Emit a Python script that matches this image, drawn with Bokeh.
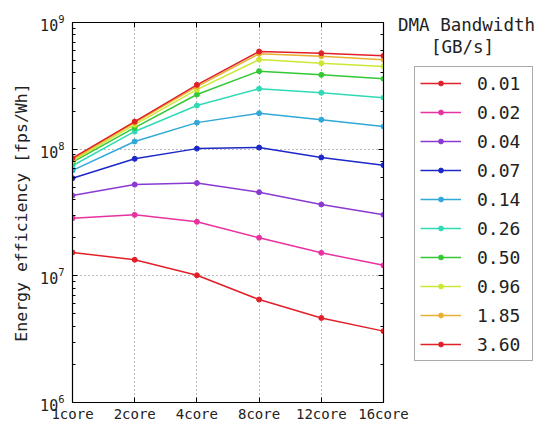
from bokeh.plotting import figure
from bokeh.layouts import row
from bokeh.models import (Range1d, FixedTicker, LogAxis, LinearAxis, LogTicker,
                          Legend, LegendItem, Label, CustomJSTickFormatter)
from bokeh.embed import file_html
from bokeh.resources import INLINE

# ---- data ----
cores = ["1core", "2core", "4core", "8core", "12core", "16core"]
bw_labels = ["0.01", "0.02", "0.04", "0.07", "0.14", "0.26", "0.50", "0.96", "1.85", "3.60"]

eff_001 = [1.53e7, 1.34e7, 1.01e7, 6.5e6, 4.65e6, 3.66e6]
eff_002 = [2.85e7, 3.03e7, 2.67e7, 2.0e7, 1.52e7, 1.21e7]
eff_004 = [4.3e7, 5.25e7, 5.4e7, 4.57e7, 3.66e7, 3.03e7]
eff_007 = [5.9e7, 8.4e7, 1.01e8, 1.03e8, 8.6e7, 7.47e7]
eff_014 = [6.8e7, 1.15e8, 1.62e8, 1.92e8, 1.71e8, 1.51e8]
eff_026 = [7.4e7, 1.38e8, 2.21e8, 3.0e8, 2.79e8, 2.55e8]
eff_050 = [7.9e7, 1.48e8, 2.70e8, 4.13e8, 3.86e8, 3.6e8]
eff_096 = [8.1e7, 1.56e8, 2.95e8, 5.1e8, 4.77e8, 4.5e8]
eff_185 = [8.3e7, 1.62e8, 3.12e8, 5.66e8, 5.42e8, 5.08e8]
eff_360 = [8.5e7, 1.65e8, 3.22e8, 5.9e8, 5.72e8, 5.46e8]

series = [eff_001, eff_002, eff_004, eff_007, eff_014,
          eff_026, eff_050, eff_096, eff_185, eff_360]
colors = ["#e3202a", "#e832a0", "#8a3ad2", "#1c28c8", "#30a8d8",
          "#30dab4", "#34c834", "#cce834", "#e8b030", "#e02028"]

legend_title_1 = "DMA Bandwidth"
legend_title_2 = "[GB/s]"
y_label = "Energy efficiency [fps/Wh]"

FONT = "DejaVu Sans Mono"

TOTAL_W, H = 537, 424
ML, MT = 72, 22
FRAME_RIGHT = 383
MR = 26                      # room for the last x tick label
PW = FRAME_RIGHT + MR        # plot canvas width
QX = 387                     # page x where the (transparent) legend canvas starts
OVER = PW - QX               # overlap of the two canvases
QW = TOTAL_W - QX
LIFT = 14                    # legend canvas raised so the title is not clipped
Q_FRAME_BOTTOM = 400 - LIFT  # page y of the legend canvas' frame bottom

x = list(range(len(cores)))

p = figure(width=PW, height=H, y_axis_type="log",
           x_range=Range1d(0, len(cores) - 1), y_range=Range1d(1e6, 1e9),
           output_backend="svg", toolbar_location=None,
           min_border_left=ML, min_border_right=MR, min_border_top=MT,
           min_border_bottom=0)

p.outline_line_color = "black"
p.outline_line_width = 1.2
p.background_fill_color = "white"

# x axis
p.xaxis.ticker = FixedTicker(ticks=x)
p.xaxis.major_label_overrides = {i: c for i, c in enumerate(cores)}
p.xaxis.major_label_text_font = FONT
p.xaxis.major_label_text_font_size = "14px"
p.xaxis.major_label_text_color = "#222222"
p.xaxis.major_label_standoff = 3
p.xaxis.major_tick_in = 5
p.xaxis.major_tick_out = 0
p.xaxis.axis_line_color = "black"

# y axis
p.yaxis.axis_label = y_label
p.yaxis.axis_label_text_font = FONT
p.yaxis.axis_label_text_font_size = "16.5px"
p.yaxis.axis_label_text_font_style = "normal"
p.yaxis.axis_label_text_color = "#222222"
p.yaxis.axis_label_standoff = 6
p.yaxis.major_label_text_font = FONT
p.yaxis.major_label_text_font_size = "15px"
p.yaxis.major_label_text_color = "#222222"
p.yaxis.major_label_standoff = 8
p.yaxis.major_tick_in = 5
p.yaxis.major_tick_out = 0
p.yaxis.minor_tick_in = 3
p.yaxis.minor_tick_out = 0
p.yaxis.axis_line_color = "black"

# mirrored axes (ticks only, no labels)
blank = CustomJSTickFormatter(code="return ''")
ra = LogAxis(ticker=LogTicker(), formatter=blank,
             major_label_standoff=0, major_tick_in=5, major_tick_out=0,
             minor_tick_in=3, minor_tick_out=0, axis_line_color="black")
p.add_layout(ra, "right")
ta = LinearAxis(ticker=FixedTicker(ticks=x), formatter=blank,
                major_label_standoff=0, major_tick_in=5, major_tick_out=0,
                axis_line_color="black")
p.add_layout(ta, "above")

# grids
for g in (p.xgrid, p.ygrid):
    g.grid_line_color = "#777777"
    g.grid_line_dash = "1 3"
    g.grid_line_width = 1

for vals, c in zip(series, colors):
    p.line(x, vals, line_color=c, line_width=1.5)
    p.scatter(x, vals, size=5, fill_color=c, line_color=c)

# ---- legend panel (transparent canvas, slightly overlapping the plot's right border) ----
q = figure(width=QW, height=H, x_range=Range1d(0, 1), y_range=Range1d(0, 1),
           output_backend="svg", toolbar_location=None,
           x_axis_location=None, y_axis_location=None,
           min_border=0, outline_line_color=None)
q.grid.visible = False
q.background_fill_color = None
q.border_fill_color = None
q.margin = (-LIFT, 0, 0, -OVER)

nan = float("nan")
items = []
for lab, c in zip(bw_labels, colors):
    # legend keys only: a single NaN point, so nothing is drawn in the panel
    kl = q.line(x=[nan], y=[nan], line_color=c, line_width=1.5)
    ks = q.scatter(x=[nan], y=[nan], size=4, fill_color=c, line_color=c)
    items.append(LegendItem(label=lab, renderers=[kl, ks]))

legend = Legend(items=items, location=(414 - QX, Q_FRAME_BOTTOM - 359),
                label_text_font=FONT, label_text_font_size="18px",
                label_text_color="#222222",
                glyph_width=41, glyph_height=12, label_height=22, label_width=50,
                label_standoff=16, spacing=7, padding=5, margin=0,
                border_line_color="#555555", border_line_width=1.5,
                background_fill_color="white", background_fill_alpha=1.0)
q.add_layout(legend, "center")

t1 = Label(x=466 - QX, y=Q_FRAME_BOTTOM - 22, x_units="screen", y_units="screen",
           text=legend_title_1, text_align="center", text_baseline="middle",
           text_font=FONT, text_font_size="17.5px", text_color="#222222")
t2 = Label(x=462 - QX, y=Q_FRAME_BOTTOM - 44.5, x_units="screen", y_units="screen",
           text=legend_title_2, text_align="center", text_baseline="middle",
           text_font=FONT, text_font_size="17.5px", text_color="#222222")
q.add_layout(t1)
q.add_layout(t2)

layout = row(p, q, spacing=0)
open("out.html", "w").write(file_html(layout, INLINE))
